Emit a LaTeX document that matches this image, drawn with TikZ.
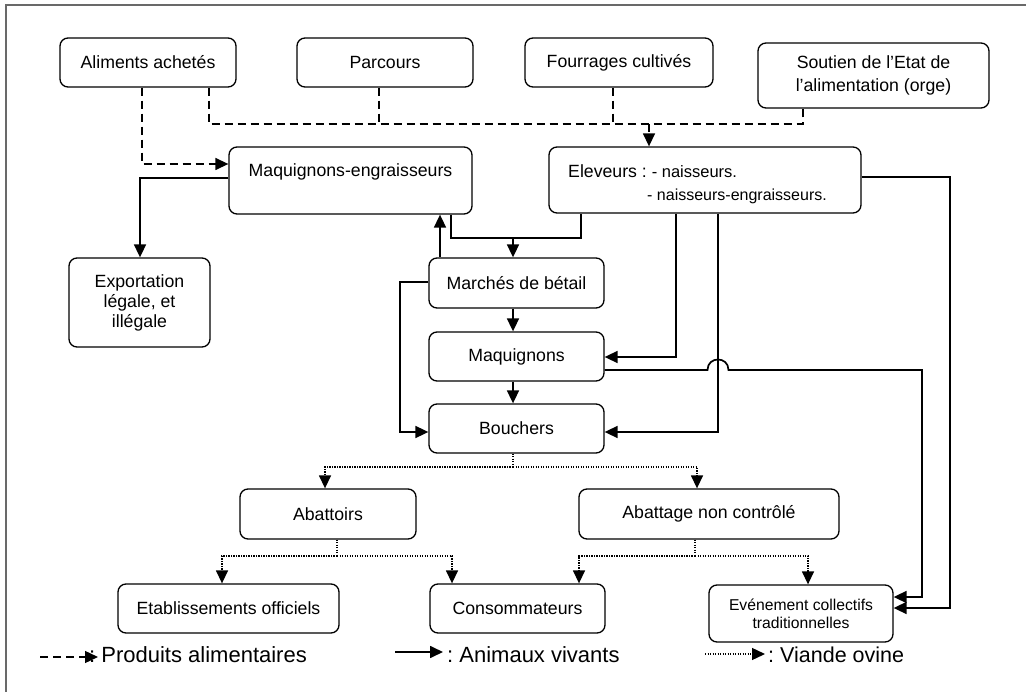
\documentclass[tikz,border=0pt]{standalone}
\usepackage{fontspec}
\setmainfont{Liberation Sans}
\usetikzlibrary{arrows.meta}
\definecolor{framegray}{RGB}{105,105,105}
\frenchspacing
\begin{document}
\begin{tikzpicture}[x=1pt,y=-1pt,
  box/.style={draw, line width=1.3pt, rounded corners=8pt, inner sep=0pt, align=center,
    font=\fontsize{17.7}{21}\selectfont},
  tip/.style={-{Triangle[length=13pt,width=12pt]}},
  live/.style={line width=1.7pt},
  anim/.style={live, tip},
  prod/.style={line width=1.4pt, dash pattern=on 8pt off 5pt},
  viande/.style={line width=1.4pt, dash pattern=on 1.3pt off 1.2pt},
  txt/.style={anchor=base west, inner sep=0pt},
]
\useasboundingbox (0,0) rectangle (1026,692);
\draw[line width=2pt, framegray] (6,5) rectangle (1045,712);

% nodes
\node[box, minimum width=176, minimum height=49] (alim) at (148,62.5) {Aliments achetés};
\node[box, minimum width=176, minimum height=49] (parc) at (385,62.5) {Parcours};
\node[box, minimum width=188, minimum height=49] (fourr) at (619,62.5) {Fourrages cultivés};
\node[box, minimum width=231, minimum height=65, font=\fontsize{17.7}{23}\selectfont] (sout) at (873.5,75.5) {Soutien de l'Etat de\\l'alimentation (orge)};
\node[box, minimum width=243, text height=29.5pt, text depth=37.5pt] (meng) at (350.5,180.5) {Maquignons-engraisseurs};
\node[box, minimum width=312, minimum height=66] (elev) at (705,180) {};
\node[txt, font=\fontsize{17.7}{21}\selectfont] (elevt1) at (568,178) {Eleveurs : {\fontsize{16.5}{19}\selectfont - naisseurs.}};
\node[txt, font=\fontsize{16}{19}\selectfont] (elevt2) at (647,201) {- naisseurs-engraisseurs.};
\node[box, minimum width=141, minimum height=89, font=\fontsize{17.7}{20}\selectfont] (expo) at (139.5,302.5) {Exportation\\légale, et\\illégale};
\node[box, minimum width=175, minimum height=50] (march) at (516.5,283) {Marchés de bétail};
\node[box, minimum width=175, minimum height=49] (maq) at (516.5,356.5) {Maquignons};
\node[box, minimum width=175, minimum height=49] (bouch) at (516.5,428.5) {Bouchers};
\node[box, minimum width=176, minimum height=50] (abat) at (328,514) {Abattoirs};
\node[box, minimum width=260, minimum height=50] (abnc) at (709,514) {Abattage non contrôlé};
\node[box, minimum width=221, minimum height=49] (etab) at (228.5,608.5) {Etablissements officiels};
\node[box, minimum width=175, minimum height=49] (cons) at (517.5,608.5) {Consommateurs};
\node[box, minimum width=184, minimum height=57, font=\fontsize{15.7}{18}\selectfont] (even) at (801,613.5) {Evénement collectifs\\traditionnelles};

% dashed: produits alimentaires
\coordinate (b1L) at (209,124);
\coordinate (b1R) at (803,124);
\coordinate (b1P) at (379,124);
\coordinate (b1F) at (613,124);
\coordinate (b1A) at (649,124);
\draw[prod] (alim.south -| b1L) -- (b1L) -- (b1R) -- (sout.south -| b1R);
\draw[prod] (parc.south -| b1P) -- (b1P);
\draw[prod] (fourr.south -| b1F) -- (b1F);
\draw[prod, tip] (b1A) -- (elev.north -| b1A);
\coordinate (a1) at (142,164);
\draw[prod, tip] (alim.south -| a1) -- (a1) -- (meng.west |- a1);

% solid: animaux vivants
\coordinate (e1) at (140,178);
\draw[anim] (meng.west |- e1) -- (e1) -- (expo.north -| e1);
\coordinate (u1) at (440,240);
\draw[anim] (march.north -| u1) -- (meng.south -| u1);
\coordinate (j) at (513,238);
\coordinate (jL) at (451,238);
\coordinate (jR) at (581,238);
\draw[live] (meng.south -| jL) -- (jL) -- (jR) -- (elev.south -| jR);
\draw[anim] (j) -- (march.north -| j);
\draw[anim] (march.south -| j) -- (maq.north -| j);
\draw[anim] (maq.south -| j) -- (bouch.north -| j);
\coordinate (mL) at (400,282);
\coordinate (mB) at (400,432);
\draw[anim] (march.west |- mL) -- (mL) -- (mB) -- (bouch.west |- mB);
\coordinate (c1) at (676,357);
\draw[anim] (elev.south -| c1) -- (c1) -- (maq.east |- c1);
\coordinate (c2) at (718,432);
\draw[anim] (elev.south -| c2) -- (c2) -- (bouch.east |- c2);
\coordinate (r1) at (950,177);
\coordinate (r2) at (950,608);
\draw[anim] (elev.east |- r1) -- (r1) -- (r2) -- (even.east |- r2);
\coordinate (h1) at (707.5,370);
\coordinate (h2) at (728.5,370);
\coordinate (h3) at (922,370);
\coordinate (h4) at (922,597);
\draw[anim] (maq.east |- h1) -- (h1) .. controls (707.5,356) and (728.5,356) .. (h2) -- (h3) -- (h4) -- (even.east |- h4);

% dotted: viande ovine
\coordinate (v1) at (513,467);
\coordinate (v1L) at (325,467);
\coordinate (v1R) at (697,467);
\draw[viande] (bouch.south -| v1) -- (v1);
\draw[viande, tip] (v1) -- (v1L) -- (abat.north -| v1L);
\draw[viande, tip] (v1) -- (v1R) -- (abnc.north -| v1R);
\coordinate (v2) at (337,556);
\coordinate (v2L) at (222,556);
\coordinate (v2R) at (452,556);
\draw[viande] (abat.south -| v2) -- (v2);
\draw[viande, tip] (v2) -- (v2L) -- (etab.north -| v2L);
\draw[viande, tip] (v2) -- (v2R) -- (cons.north -| v2R);
\coordinate (v3) at (695,556);
\coordinate (v3L) at (579,556);
\coordinate (v3R) at (808,556);
\draw[viande] (abnc.south -| v3) -- (v3);
\draw[viande, tip] (v3) -- (v3L) -- (cons.north -| v3L);
\draw[viande, tip] (v3) -- (v3R) -- (even.north -| v3R);

% legend
\node[txt, font=\fontsize{22}{26}\selectfont] (leg1) at (89,662) {: Produits alimentaires};
\node[txt, font=\fontsize{22}{26}\selectfont] (leg2) at (447,662) {: Animaux vivants};
\node[txt, font=\fontsize{21.5}{26}\selectfont] (leg3) at (768,662) {: Viande ovine};
\coordinate (l1a) at (40,657);
\coordinate (l1b) at (98,657);
\draw[prod, tip] (l1a) -- (l1b);
\coordinate (l2a) at (395,652);
\coordinate (l2b) at (443,652);
\draw[anim] (l2a) -- (l2b);
\coordinate (l3a) at (705,654);
\coordinate (l3b) at (765,654);
\draw[viande, tip] (l3a) -- (l3b);
\end{tikzpicture}
\end{document}
